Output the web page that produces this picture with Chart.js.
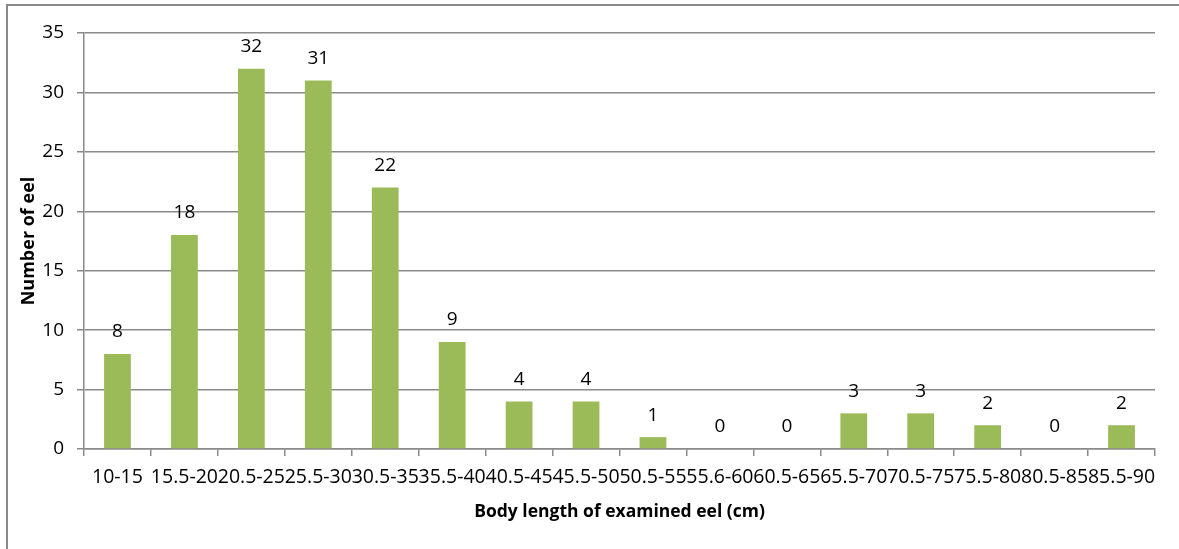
<!DOCTYPE html>
<html>
<head>
<meta charset="utf-8">
<script src="https://cdn.jsdelivr.net/npm/chart.js@4.4.1/dist/chart.umd.min.js"></script>
<style>
  html, body { margin: 0; padding: 0; background: #fff; }
  #wrap { width: 1179px; height: 549px; position: relative; }
</style>
</head>
<body>
<div id="wrap"><canvas id="c" width="1179" height="549"></canvas></div>
<script>
// Length classes of examined eels (cm) and the count in each class
const lengthClasses = ['10-15', '15.5-20', '20.5-25', '25.5-30', '30.5-35', '35.5-40', '40.5-45', '45.5-50',
  '50.5-55', '55.6-60', '60.5-65', '65.5-70', '70.5-75', '75.5-80', '80.5-85', '85.5-90'];
const eelCounts = [8, 18, 32, 31, 22, 9, 4, 4, 1, 0, 0, 3, 3, 2, 0, 2];
const yTickValues = [0, 5, 10, 15, 20, 25, 30, 35];

const FONT = '"Open Sans", "Liberation Sans", sans-serif';
const GRID = '#8a8a8a';

// White background plus the grey frame around the chart
const framePlugin = {
  id: 'frame',
  beforeDraw(chart) {
    const ctx = chart.ctx;
    ctx.save();
    ctx.fillStyle = '#ffffff';
    ctx.fillRect(0, 0, chart.width, chart.height);
    ctx.strokeStyle = '#888888';
    ctx.lineWidth = 2;
    ctx.strokeRect(7, 5, chart.width + 20, chart.height + 20);
    ctx.restore();
  }
};

// Count written above every bar, zero counts included
const valueLabels = {
  id: 'valueLabels',
  afterDatasetsDraw(chart) {
    const ctx = chart.ctx;
    const meta = chart.getDatasetMeta(0);
    const yScale = chart.scales.y;
    ctx.save();
    ctx.fillStyle = '#000';
    ctx.font = '19px ' + FONT;
    ctx.textAlign = 'center';
    ctx.textBaseline = 'middle';
    meta.data.forEach((bar, i) => {
      const v = chart.data.datasets[0].data[i];
      ctx.fillText(String(v), bar.x, yScale.getPixelForValue(v) - 22);
    });
    ctx.restore();
  }
};

new Chart(document.getElementById('c'), {
  type: 'bar',
  data: {
    labels: lengthClasses,
    datasets: [{
      data: eelCounts,
      backgroundColor: '#9bbb59',
      borderWidth: 0,
      barPercentage: 0.4,
      categoryPercentage: 1.0
    }]
  },
  options: {
    responsive: false,
    devicePixelRatio: 1,
    animation: false,
    layout: { padding: { left: 0, right: 24, top: 33, bottom: 0 } },
    plugins: { legend: { display: false }, tooltip: { enabled: false } },
    scales: {
      x: {
        offset: true,
        afterFit(scale) { scale.height = 100; },
        grid: {
          offset: true,
          drawOnChartArea: false,
          drawTicks: true,
          tickLength: 7,
          color: GRID,
          lineWidth: 1.5
        },
        border: { color: GRID, width: 1.5 },
        ticks: {
          autoSkip: false,
          maxRotation: 0,
          minRotation: 0,
          padding: 10,
          color: '#000',
          font: { family: FONT, size: 19.5 }
        },
        title: {
          display: true,
          text: 'Body length of examined eel (cm)',
          color: '#000',
          font: { family: FONT, size: 17.5, weight: 'bold' },
          padding: { top: 0, bottom: 26 }
        }
      },
      y: {
        min: 0,
        max: 35,
        afterFit(scale) { scale.width = 84; },
        afterBuildTicks(scale) { scale.ticks = yTickValues.map(v => ({ value: v })); },
        grid: {
          color: GRID,
          lineWidth: 1.5,
          drawTicks: true,
          tickLength: 7
        },
        border: { color: GRID, width: 1.5 },
        ticks: {
          padding: 13,
          color: '#000',
          font: { family: FONT, size: 19 }
        },
        title: {
          display: true,
          text: 'Number of eel',
          color: '#000',
          font: { family: FONT, size: 18, weight: 'bold' },
          padding: { top: 18, bottom: 0 }
        }
      }
    }
  },
  plugins: [framePlugin, valueLabels]
});
</script>
</body>
</html>
